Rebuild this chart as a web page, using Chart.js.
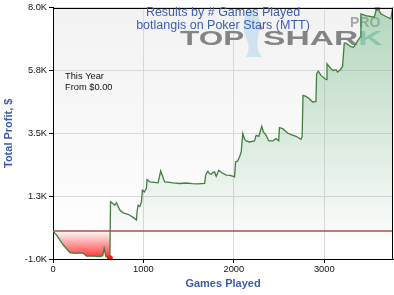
<!DOCTYPE html>
<html>
<head>
<meta charset="utf-8">
<script src="https://cdn.jsdelivr.net/npm/chart.js@4"></script>
<style>
html,body{margin:0;padding:0;background:#fff;}
canvas{display:block;}
</style>
</head>
<body>
<canvas id="c" width="394" height="295"></canvas>
<script>
const games = [0,40,114,188,250,300,335,371,450,518,550,566,585,610,629,
  636,684,702,739,776,830,886,923,930,941,960,978,989,1010,1033,1040,1070,1120,1162,1191,1235,1290,1327,1401,1475,1540,1600,1677,
  1688,1713,1730,1750,1770,1787,1805,1834,1870,1916,1960,2008,2019,2040,2063,2081,2099,2120,2136,2173,2228,2247,2276,2309,2327,2357,2386,2430,2467,2496,
  2504,2540,2595,2632,2688,2743,2755,2765,2798,2835,2871,2908,2915,2934,2963,3008,3026,3030,3074,3103,3129,3147,3177,3202,
  3221,3239,3276,3294,3323,3349,3367,3397,3405,3460,3552,3577,3588,3625,3699,3736,3754];
const profit = [0,-143,-500,-775,-800,-780,-796,-893,-900,-918,-880,-618,-918,-930,-975,
  1046,928,1010,750,653,600,489,393,700,928,880,1046,1464,1400,1525,1846,1760,1740,1725,2153,1760,1740,1725,1703,1720,1700,1690,1703,
  2000,2143,2050,2035,2100,2118,1964,2178,2080,2000,1990,1939,2475,2500,2653,2832,3489,3280,3225,3189,3225,3428,3393,3750,3546,3428,3225,3225,3310,3225,
  3700,3665,3510,3453,3393,3285,3370,4857,4821,4739,4618,4643,5632,5724,5571,5453,5418,5989,5810,5750,5775,5689,5775,5892,
  6725,6725,6640,6605,6580,6700,6796,6940,7775,7714,7655,7950,8000,7775,7655,7595,7950];
const xTickValues = [0,1000,2000,3000];
const xTickLabels = ['0','1000','2000','3000'];
const yTickValues = [-1000,1250,3500,5750,8000];
const yTickLabels = ['-1.0K','1.3K','3.5K','5.8K','8.0K'];
const xMin = 0, xMax = 3760, yMin = -1000, yMax = 8000;
const titleLines = ['Results by # Games Played','botlangis on Poker Stars (MTT)'];
const noteLines = ['This Year','From $0.00'];
const xTitle = 'Games Played';
const yTitle = 'Total Profit, $';

const FONT = "'Liberation Sans', Arial, sans-serif";
const minIdx = profit.indexOf(Math.min(...profit));
const maxIdx = profit.indexOf(Math.max(...profit));

function fillGradient(ctx) {
  const chart = ctx.chart;
  const area = chart.chartArea;
  if (!area) return 'rgba(0,0,0,0)';
  const y0 = chart.scales.y.getPixelForValue(0);
  const z = Math.min(1, Math.max(0, (y0 - area.top) / (area.bottom - area.top)));
  const g = chart.ctx.createLinearGradient(0, area.top, 0, area.bottom);
  g.addColorStop(0, 'rgba(105,180,125,0.45)');
  g.addColorStop(Math.max(0, z - 0.002), 'rgba(105,180,125,0.03)');
  g.addColorStop(z, 'rgba(255,40,40,0.02)');
  g.addColorStop(1, 'rgba(255,20,20,0.92)');
  return g;
}

const decor = {
  id: 'decor',
  beforeDraw(chart) {
    const {ctx, chartArea: a} = chart;
    ctx.save();
    ctx.fillStyle = '#fff';
    ctx.fillRect(0, 0, chart.width, chart.height);
    const g = ctx.createLinearGradient(0, a.top, 0, a.bottom);
    g.addColorStop(0, '#f2f2f2');
    g.addColorStop(1, '#ffffff');
    ctx.fillStyle = g;
    ctx.fillRect(a.left, a.top, a.right - a.left, a.bottom - a.top);
    ctx.restore();
  },
  beforeDatasetsDraw(chart) {
    const {ctx} = chart;
    ctx.save();
    // watermark logo (shark silhouette)
    ctx.fillStyle = 'rgba(175,212,236,0.55)';
    ctx.beginPath();
    ctx.moveTo(249, 9);
    ctx.bezierCurveTo(258, 10, 262, 20, 259, 32);
    ctx.bezierCurveTo(257, 42, 256, 50, 262, 57);
    ctx.lineTo(246, 57);
    ctx.bezierCurveTo(250, 50, 249, 44, 246, 38);
    ctx.bezierCurveTo(242, 28, 243, 15, 249, 9);
    ctx.closePath();
    ctx.fill();
    ctx.fillStyle = 'rgba(225,100,90,0.6)';
    ctx.beginPath();
    ctx.arc(261, 28, 2, 0, Math.PI * 2);
    ctx.fill();
    ctx.font = 'bold 21px ' + FONT;
    ctx.textBaseline = 'alphabetic';
    ctx.fillStyle = 'rgba(120,120,120,0.9)';
    ctx.save(); ctx.translate(180, 45); ctx.scale(1.5, 1); ctx.fillText('TOP', 0, 0); ctx.restore();
    ctx.save(); ctx.translate(263, 45); ctx.scale(1.6, 1);
    ctx.fillText('SHAR', 0, 0);
    const w = ctx.measureText('SHAR').width;
    ctx.fillStyle = 'rgba(150,205,195,0.9)';
    ctx.fillText('K', w, 0);
    ctx.restore();
    ctx.font = 'bold 14px ' + FONT;
    ctx.fillStyle = 'rgba(160,160,160,0.9)';
    ctx.fillText('PRO', 350, 27);
    ctx.restore();
  },
  afterDraw(chart) {
    const {ctx, chartArea: a} = chart;
    ctx.save();
    ctx.strokeStyle = '#000';
    ctx.lineWidth = 1;
    ctx.beginPath();
    ctx.moveTo(a.left, Math.round(a.top) + 0.5);
    ctx.lineTo(a.right, Math.round(a.top) + 0.5);
    ctx.moveTo(Math.round(a.right) - 0.5, a.top);
    ctx.lineTo(Math.round(a.right) - 0.5, a.bottom);
    ctx.stroke();
    // title
    ctx.font = '12.5px ' + FONT;
    ctx.fillStyle = '#3d5eb4';
    ctx.textAlign = 'center';
    ctx.textBaseline = 'alphabetic';
    const cx = (a.left + a.right) / 2;
    ctx.fillText(titleLines[0], cx, 15.5);
    ctx.fillText(titleLines[1], cx, 28.5);
    // note
    ctx.font = '9.3px ' + FONT;
    ctx.fillStyle = '#111';
    ctx.textAlign = 'left';
    ctx.fillText(noteLines[0], 65, 79);
    ctx.fillText(noteLines[1], 65, 90);
    ctx.restore();
  }
};

new Chart(document.getElementById('c'), {
  type: 'line',
  data: {
    datasets: [
      {
        data: games.map((g, i) => ({x: g, y: profit[i]})),
        borderColor: '#3f7f3f',
        borderWidth: 1.3,
        backgroundColor: fillGradient,
        fill: 'origin',
        tension: 0,
        pointRadius: c => (c.dataIndex === minIdx || c.dataIndex === maxIdx) ? 3 : 0,
        pointBackgroundColor: c => c.dataIndex === minIdx ? '#ff1a1a' : '#1f8a2a',
        pointBorderWidth: 0,
        order: 1
      },
      {
        data: [{x: xMin, y: 0}, {x: xMax, y: 0}],
        borderColor: '#b24a4a',
        borderWidth: 1.5,
        pointRadius: 0,
        fill: false,
        order: 0
      }
    ]
  },
  options: {
    responsive: false,
    animation: false,
    devicePixelRatio: 1,
    layout: {padding: {top: 7, right: 1, left: 0, bottom: 0}},
    plugins: {legend: {display: false}, tooltip: {enabled: false}, title: {display: false}},
    scales: {
      x: {
        type: 'linear',
        min: xMin, max: xMax,
        afterBuildTicks: s => { s.ticks = xTickValues.map(v => ({value: v})); },
        afterFit: s => { s.height = 36; },
        ticks: {
          callback: (v, i) => xTickLabels[i],
          font: {family: FONT, size: 9.3},
          color: '#111',
          padding: 1,
          maxRotation: 0,
          autoSkip: false
        },
        grid: {color: '#d9d9d9', tickColor: '#000', tickLength: 4, lineWidth: 1},
        border: {color: '#000', width: 1},
        title: {display: true, text: xTitle, color: '#3b5cab', font: {family: FONT, size: 11, weight: 'bold'}, padding: {top: 0, bottom: 4}}
      },
      y: {
        min: yMin, max: yMax,
        afterBuildTicks: s => { s.ticks = yTickValues.map(v => ({value: v})); },
        afterFit: s => { s.width = 53; },
        ticks: {
          callback: (v, i) => yTickLabels[i],
          font: {family: FONT, size: 9.3},
          color: '#111',
          padding: 2,
          autoSkip: false
        },
        grid: {color: '#d9d9d9', tickColor: '#000', tickLength: 4, lineWidth: 1},
        border: {color: '#000', width: 1},
        title: {display: true, text: yTitle, color: '#3b5cab', font: {family: FONT, size: 11, weight: 'bold'}, padding: {top: 2, bottom: 2}}
      }
    }
  },
  plugins: [decor]
});
</script>
</body>
</html>
